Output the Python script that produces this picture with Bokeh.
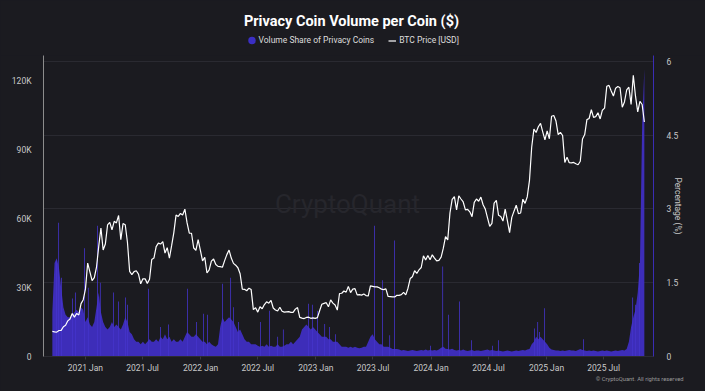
import pandas as pd
from bokeh.plotting import figure
from bokeh.layouts import column
from bokeh.models import (Range1d, LinearAxis, FixedTicker, Label, Legend, LegendItem, Title)
from bokeh.embed import file_html
from bokeh.resources import INLINE

# ---------------- data ----------------
START = "2020-09-18"          # weekly samples

btc_2020 = [10900, 10700, 10600, 11300, 11350, 12950, 13550, 15500, 16300, 18700,
            17100, 18700, 18050, 23000, 24700]
btc_2021 = [29400, 40600, 36800, 33000, 34300, 38900, 47900, 55900, 46300, 48900,
            57200, 58300, 55100, 58800, 58100, 61300, 50800, 57800, 57300, 49700,
            37000, 35600, 36900, 37300, 35800, 31600, 33800, 33800, 31800, 33600,
            42200, 42800, 47800, 49300, 48900, 50000, 45000, 47300, 42800, 48200,
            53900, 61500, 60900, 62200, 61500, 64100, 58100, 53600, 53600, 47200,
            46200, 50800, 46300]
btc_2022 = [41600, 43100, 36300, 37700, 41500, 42400, 40000, 39200, 39100, 38800,
            41700, 44300, 46300, 42800, 40500, 39700, 38600, 36000, 29300, 29200,
            28600, 29700, 29100, 20400, 21200, 19300, 21600, 20800, 22600, 23800,
            23200, 24400, 21100, 20200, 19800, 21400, 19700, 19300, 19400, 19500,
            19200, 19200, 20600, 21300, 17000, 16700, 16500, 17000, 17100, 16600,
            16800, 16600]
btc_2023 = [16900, 19900, 22700, 23100, 23400, 21600, 24600, 23200, 22400, 20200,
            27400, 27500, 28500, 28000, 30500, 27800, 29300, 29500, 26800, 26900,
            26700, 27200, 26500, 26300, 30700, 30500, 30300, 30300, 29900, 29300,
            29100, 29400, 26100, 26000, 25900, 25900, 26600, 26600, 26900, 27900,
            26800, 29700, 33900, 34700, 37300, 36100, 37700, 38700, 43800, 42000,
            43900, 42100]
btc_2024 = [44200, 42800, 41600, 41800, 43200, 47100, 52100, 50700, 62400, 68300,
            69500, 63800, 69900, 68500, 67200, 63800, 64000, 62900, 60800, 67000,
            68500, 67500, 69300, 66000, 64100, 60300, 56600, 57900, 66700, 67900,
            61400, 60900, 58900, 64100, 59100, 53900, 60500, 63200, 65800, 62100,
            62400, 68400, 66600, 69500, 76600, 91000, 98900, 97400, 99900, 101400,
            97700, 94200]
btc_2025 = [98100, 94700, 104500, 104800, 102400, 96500, 97500, 96100, 84400, 86700,
            84300, 84200, 84400, 83800, 83400, 84900, 94600, 96500, 103000, 103500,
            107300, 104000, 104300, 106000, 103300, 107100, 108000, 117500, 117900, 115500,
            113300, 116700, 117400, 116900, 108400, 110700, 115900, 117100, 109600, 122300,
            113200, 106400, 111000, 109600, 102000]

pct_2020 = [0.9, 1.9, 2.0, 1.8, 1.4, 1.0, 0.85, 0.8, 0.8, 0.85,
            0.9, 0.95, 0.9, 1.0, 0.95]
pct_2021 = [0.7, 0.8, 0.65, 0.6, 0.7, 1.0, 1.3, 0.9, 0.7, 0.6,
            0.55, 0.6, 0.7, 0.6, 0.65, 0.6, 0.55, 0.65, 0.8, 0.7,
            0.5, 0.45, 0.35, 0.3, 0.3, 0.25, 0.3, 0.25, 0.3, 0.35,
            0.3, 0.3, 0.35, 0.3, 0.4, 0.35, 0.45, 0.35, 0.4, 0.3,
            0.35, 0.3, 0.3, 0.35, 0.3, 0.4, 0.5, 0.45, 0.4, 0.4,
            0.45, 0.4, 0.35]
pct_2022 = [0.3, 0.3, 0.25, 0.3, 0.25, 0.22, 0.2, 0.25, 0.6, 0.8,
            0.7, 0.75, 0.8, 0.75, 0.7, 0.6, 0.5, 0.55, 0.45, 0.35,
            0.3, 0.3, 0.25, 0.25, 0.25, 0.22, 0.2, 0.22, 0.2, 0.25,
            0.2, 0.22, 0.2, 0.2, 0.25, 0.2, 0.2, 0.22, 0.25, 0.25,
            0.3, 0.25, 0.3, 0.35, 0.4, 0.55, 0.6, 0.65, 0.6, 0.55,
            0.6, 0.55]
pct_2023 = [0.5, 0.45, 0.4, 0.4, 0.4, 0.35, 0.35, 0.3, 0.3, 0.3,
            0.25, 0.2, 0.2, 0.2, 0.18, 0.2, 0.18, 0.2, 0.18, 0.17,
            0.18, 0.2, 0.2, 0.3, 0.4, 0.45, 0.35, 0.3, 0.25, 0.25,
            0.2, 0.2, 0.2, 0.18, 0.15, 0.15, 0.15, 0.14, 0.12, 0.13,
            0.12, 0.11, 0.12, 0.13, 0.12, 0.11, 0.12, 0.13, 0.12, 0.14,
            0.12, 0.13]
pct_2024 = [0.12, 0.13, 0.12, 0.14, 0.18, 0.2, 0.16, 0.15, 0.14, 0.16,
            0.13, 0.12, 0.13, 0.12, 0.14, 0.12, 0.11, 0.12, 0.13, 0.11,
            0.12, 0.12, 0.11, 0.12, 0.13, 0.14, 0.12, 0.13, 0.12, 0.11,
            0.12, 0.11, 0.1, 0.11, 0.12, 0.11, 0.1, 0.11, 0.12, 0.11,
            0.12, 0.13, 0.12, 0.14, 0.15, 0.25, 0.3, 0.4, 0.35, 0.4,
            0.35, 0.3]
pct_2025 = [0.25, 0.18, 0.14, 0.13, 0.12, 0.12, 0.11, 0.12, 0.11, 0.12,
            0.13, 0.12, 0.12, 0.11, 0.13, 0.15, 0.13, 0.12, 0.11, 0.12,
            0.11, 0.12, 0.11, 0.1, 0.11, 0.12, 0.11, 0.12, 0.11, 0.1,
            0.11, 0.12, 0.11, 0.12, 0.13, 0.12, 0.15, 0.3, 0.6, 0.8,
            0.95, 1.3, 1.9, 4.7, 5.85]

# single-day spikes of the volume share (%)
spike_dates = ["2020-10-01", "2020-10-08", "2020-10-17", "2020-11-21", "2020-11-30",
               "2020-12-29", "2021-01-10", "2021-02-08", "2021-02-17", "2021-03-31",
               "2021-04-16", "2021-05-08", "2021-05-14", "2021-07-20", "2021-08-27",
               "2021-09-21", "2021-11-20", "2021-12-19", "2022-01-10", "2022-01-23",
               "2022-03-11", "2022-04-06", "2022-04-15", "2022-05-01", "2022-07-10",
               "2022-08-07", "2022-09-02", "2022-09-20", "2022-12-09", "2022-12-21",
               "2023-01-06", "2023-01-29", "2023-02-13", "2023-03-04", "2023-07-06",
               "2023-07-31", "2023-08-23", "2023-09-07", "2023-12-30", "2024-02-07",
               "2024-02-25", "2024-03-31", "2024-05-08", "2024-07-14", "2024-08-02",
               "2024-11-24", "2024-12-04", "2024-12-10", "2024-12-26", "2025-04-28",
               "2025-10-01", "2025-10-10", "2025-10-23"]
spike_vals = [1.95, 2.72, 1.6, 1.18, 1.3,
              2.2, 1.4, 2.66, 1.5, 1.3,
              1.12, 1.2, 1.05, 1.38, 0.6,
              0.65, 1.38, 0.7, 0.87, 0.85,
              1.48, 1.6, 1.0, 0.7, 0.7,
              0.93, 0.4, 0.55, 1.07, 1.05,
              0.93, 0.66, 0.6, 0.45, 2.66,
              1.55, 0.43, 2.36, 0.22, 1.83,
              0.85, 1.12, 0.33, 0.22, 0.33,
              0.57, 0.7, 0.5, 0.98, 0.35,
              1.2, 1.05, 1.9]

btc_ticks = [0, 30000, 60000, 90000, 120000]
btc_labels = ["0", "30K", "60K", "90K", "120K"]
pct_ticks = [0, 1.5, 3, 4.5, 6]
pct_labels = ["0", "1.5", "3", "4.5", "6"]
date_ticks = ["2021-01-01", "2021-07-01", "2022-01-01", "2022-07-01", "2023-01-01",
              "2023-07-01", "2024-01-01", "2024-07-01", "2025-01-01", "2025-07-01"]
date_labels = ["2021 Jan", "2021 Jul", "2022 Jan", "2022 Jul", "2023 Jan",
               "2023 Jul", "2024 Jan", "2024 Jul", "2025 Jan", "2025 Jul"]

# ---------------- build ----------------
def ms(d):
    return float(pd.Timestamp(d).value // 10**6)

btc = btc_2020 + btc_2021 + btc_2022 + btc_2023 + btc_2024 + btc_2025
pct = pct_2020 + pct_2021 + pct_2022 + pct_2023 + pct_2024 + pct_2025
dates = pd.date_range(START, periods=len(btc), freq="7D")
xs = [float(v // 10**6) for v in dates.asi8]
spike_x = [ms(d) for d in spike_dates]
DAY = 86400000.0

BG = "#1b1b20"
PURPLE = "#3d2db9"
PURPLE_SPIKE = "#4535cc"
FONT = "Roboto"
TICK_COL = "#c8c8c8"

# ---- header: title + legend (header ranges are in pixels) ----
HEAD_W, HEAD_H = 705, 55
head = figure(width=HEAD_W, height=HEAD_H, output_backend="svg", toolbar_location=None,
              x_range=Range1d(0, HEAD_W), y_range=Range1d(0, HEAD_H),
              x_axis_location=None, y_axis_location=None,
              min_border=0, background_fill_color=BG, border_fill_color=BG,
              outline_line_color=None, frame_align=False)
head.grid.visible = False
head.add_layout(Label(x=351, y=HEAD_H - 20.5, x_units="screen", y_units="screen",
                      text="Privacy Coin Volume per Coin ($)", text_font=FONT,
                      text_font_size="14.5px", text_font_style="bold", text_color="white",
                      text_align="center", text_baseline="middle"))
LEG_X, LEG_Y = 247.5, HEAD_H - 40
# round swatch of the first legend entry
leg_c = head.scatter(x=[LEG_X + 4], y=[LEG_Y], marker="circle", size=7.5,
                     fill_color="#3b2fc4", line_color=None)
leg_l = head.line(x=[-50, -40], y=[-50, -40], line_color="white", line_width=1.2)
legend = Legend(items=[LegendItem(label="Volume Share of Privacy Coins", renderers=[leg_c]),
                       LegendItem(label="BTC Price [USD]", renderers=[leg_l])],
                orientation="horizontal", location=(LEG_X, LEG_Y - 5.5),
                background_fill_alpha=0, border_line_color=None, padding=0, margin=0,
                spacing=14, glyph_width=8, glyph_height=11, label_standoff=3,
                label_height=11,
                label_text_font=FONT, label_text_font_size="8.5px",
                label_text_color="#dddddd")
head.add_layout(legend)

# ---- main chart ----
p = figure(width=705, height=391 - HEAD_H, output_backend="svg", toolbar_location=None,
           x_range=Range1d(ms("2020-08-21"), ms("2025-12-06")),
           y_range=Range1d(0, 130900),
           min_border_left=43, min_border_right=52, min_border_top=0, min_border_bottom=35,
           background_fill_color=BG, border_fill_color=BG, outline_line_color=None,
           frame_align=False)
p.extra_y_ranges = {"pct": Range1d(0, 6.12)}

xa = p.xaxis[0]
xa.ticker = FixedTicker(ticks=[ms(d) for d in date_ticks])
xa.major_label_overrides = {ms(d): l for d, l in zip(date_ticks, date_labels)}
xa.axis_line_color = "#2c2c32"
xa.major_tick_line_color = "#3a3a40"
xa.major_tick_out = 3
xa.major_tick_in = 0
xa.minor_tick_line_color = None
xa.major_label_standoff = 3
xa.major_label_text_font = FONT
xa.major_label_text_font_size = "8.5px"
xa.major_label_text_color = TICK_COL

ya = p.yaxis[0]
ya.ticker = FixedTicker(ticks=btc_ticks)
ya.major_label_overrides = {t: l for t, l in zip(btc_ticks, btc_labels)}
ya.axis_line_color = "#8c8c8c"
ya.major_tick_line_color = None
ya.minor_tick_line_color = None
ya.major_label_standoff = 6
ya.major_label_text_font = FONT
ya.major_label_text_font_size = "8.5px"
ya.major_label_text_color = TICK_COL

ra = LinearAxis(y_range_name="pct", ticker=FixedTicker(ticks=pct_ticks))
ra.major_label_overrides = {t: l for t, l in zip(pct_ticks, pct_labels)}
ra.axis_line_color = "#3a2db5"
ra.major_tick_line_color = None
ra.minor_tick_line_color = None
ra.major_label_standoff = 7
ra.major_label_text_font = FONT
ra.major_label_text_font_size = "8.5px"
ra.major_label_text_color = TICK_COL
ra.axis_label = "Percentage (%)"
ra.axis_label_text_font = FONT
ra.axis_label_text_font_size = "8.5px"
ra.axis_label_text_font_style = "normal"
ra.axis_label_text_color = TICK_COL
ra.axis_label_standoff = -8
p.add_layout(ra, "right")

p.xgrid.visible = False
g = p.ygrid[0]
g.y_range_name = "pct"
g.ticker = FixedTicker(ticks=pct_ticks)
g.grid_line_color = "#2a2a31"

p.add_layout(Label(x=304, y=153, x_units="screen", y_units="screen", text="CryptoQuant",
                   text_font=FONT, text_font_size="26px", text_color="#26262c",
                   text_align="center", text_baseline="middle", level="underlay"))

p.varea(x=xs, y1=[0] * len(pct), y2=pct, y_range_name="pct", fill_color=PURPLE)
p.vbar(x=spike_x, top=spike_vals, bottom=0, width=2.5 * DAY, y_range_name="pct",
       fill_color=PURPLE_SPIKE, line_color=None)
p.line(xs, btc, line_color="white", line_width=1.2)

credit = Title(text="© CryptoQuant. All rights reserved", align="right", offset=-30,
               text_font=FONT, text_font_size="5.8px", text_font_style="normal",
               text_color="#9a9a9a", vertical_align="top", standoff=1)
p.add_layout(credit, "below")

layout = column(head, p, spacing=0, styles={"background-color": BG})
open("out.html", "w").write(file_html(layout, INLINE))
